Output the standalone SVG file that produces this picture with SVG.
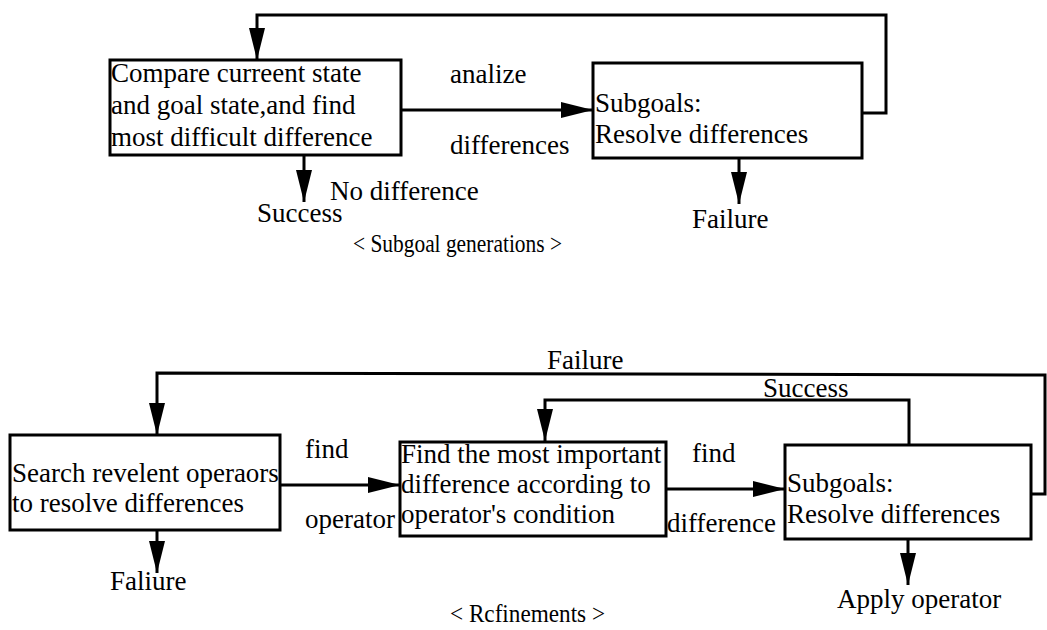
<svg xmlns="http://www.w3.org/2000/svg" width="1047" height="630" viewBox="0 0 1047 630">
<style>
.box{fill:#fff;stroke:#000;stroke-width:3}
.ln{fill:none;stroke:#000;stroke-width:3}
.t1{font-size:27px;fill:#000}
.t2{font-size:27px;fill:#000}
.cap{font-size:25px;fill:#000}
</style>
<defs>
<marker id="ah" markerUnits="userSpaceOnUse" markerWidth="34" markerHeight="18" refX="32" refY="8" orient="auto">
<path d="M0,0 L32,8 L0,16 z" fill="#000"/>
</marker>
</defs>
<rect width="1047" height="630" fill="#fff"/>
<g id="connectors">
<path class="ln" d="M862,113 H886 V15 H257 V60" marker-end="url(#ah)"/>
<path class="ln" d="M402,110 H593" marker-end="url(#ah)"/>
<path class="ln" d="M304,155 V202" marker-end="url(#ah)"/>
<path class="ln" d="M739,158 V204" marker-end="url(#ah)"/>
<path class="ln" d="M1031,494 H1045 V375 L157,373 V435" marker-end="url(#ah)"/>
<path class="ln" d="M909,445 V400 H545 V441" marker-end="url(#ah)"/>
<path class="ln" d="M280,485 H400" marker-end="url(#ah)"/>
<path class="ln" d="M666,489 H785" marker-end="url(#ah)"/>
<path class="ln" d="M157,530 V573" marker-end="url(#ah)"/>
<path class="ln" d="M908,539 V585" marker-end="url(#ah)"/>
</g>
<g font-family="Liberation Serif, Times New Roman, DejaVu Serif, serif">
<g id="compare">
<rect class="box" x="110" y="60" width="291" height="95"/>
<text class="t1" x="111" y="82">Compare curreent state</text>
<text class="t1" x="111" y="114">and goal state,and find</text>
<text class="t1" x="111" y="146">most difficult difference</text>
</g>
<g id="subgoals1">
<rect class="box" x="593" y="63" width="269" height="95"/>
<text class="t1" x="595" y="112">Subgoals:</text>
<text class="t1" x="595" y="143">Resolve differences</text>
</g>
<g id="labels-top">
<text class="t1" x="450" y="83">analize</text>
<text class="t1" x="450" y="154">differences</text>
<text class="t1" x="330" y="200">No difference</text>
<text class="t1" x="257" y="222">Success</text>
<text class="t1" x="692" y="228">Failure</text>
<text class="cap" x="353" y="252" textLength="209" lengthAdjust="spacingAndGlyphs">&lt; Subgoal generations &gt;</text>
</g>
<g id="search">
<rect class="box" x="10" y="435" width="270" height="95"/>
<text class="t2" x="12" y="482">Search revelent operaors</text>
<text class="t2" x="12" y="512">to resolve differences</text>
</g>
<g id="findimportant">
<rect class="box" x="400" y="442" width="266" height="94"/>
<text class="t2" x="401" y="463">Find the most important</text>
<text class="t2" x="401" y="493">difference according to</text>
<text class="t2" x="401" y="523">operator's condition</text>
</g>
<g id="subgoals2">
<rect class="box" x="785" y="445" width="246" height="94"/>
<text class="t2" x="787" y="492">Subgoals:</text>
<text class="t2" x="787" y="523">Resolve differences</text>
</g>
<g id="labels-bottom">
<text class="t2" x="547" y="369">Failure</text>
<text class="t2" x="763" y="397">Success</text>
<text class="t2" x="305" y="458">find</text>
<text class="t2" x="305" y="528">operator</text>
<text class="t2" x="692" y="462">find</text>
<text class="t2" x="667" y="532">difference</text>
<text class="t2" x="110" y="590">Faliure</text>
<text class="t2" x="837" y="608">Apply operator</text>
<text class="cap" x="450" y="622" textLength="155" lengthAdjust="spacingAndGlyphs">&lt; Rcfinements &gt;</text>
</g>
</g>
</svg>
